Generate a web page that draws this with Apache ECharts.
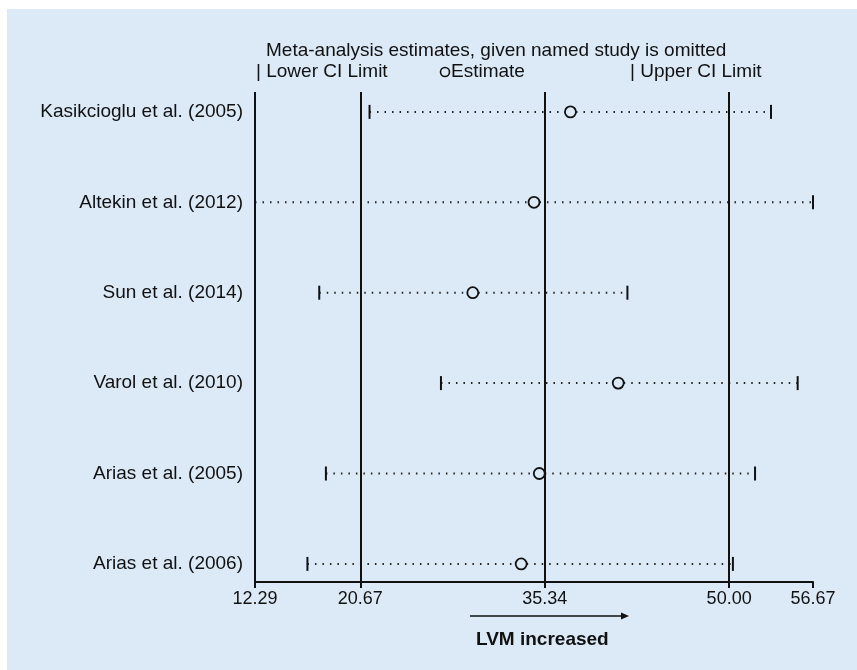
<!DOCTYPE html>
<html>
<head>
<meta charset="utf-8">
<script src="https://cdn.jsdelivr.net/npm/echarts@6/dist/echarts.min.js"></script>
<style>
  html, body { margin: 0; padding: 0; background: #ffffff; }
  #chart { position: absolute; left: 7px; top: 9px; width: 850px; height: 661px; background: #dce9f7; }
</style>
</head>
<body>
<div id="chart"></div>
<script>
  // studies top to bottom
  const studies = [
    'Kasikcioglu et al. (2005)',
    'Altekin et al. (2012)',
    'Sun et al. (2014)',
    'Varol et al. (2010)',
    'Arias et al. (2005)',
    'Arias et al. (2006)'
  ];
  const lowerCI = [21.40, 12.29, 17.40, 27.08, 17.93, 16.46];
  const estimate = [37.38, 34.48, 29.61, 41.18, 34.90, 33.46];
  const upperCI = [53.33, 56.67, 41.91, 55.45, 52.06, 50.30];
  // overall: lower, estimate, upper + axis bounds
  const refLines = [12.29, 20.67, 35.34, 50.00];
  const xTicks = [12.29, 20.67, 35.34, 50.00, 56.67];

  const font = 'Liberation Sans, Arial, sans-serif';
  const n = studies.length;

  const rows = studies.map((s, i) => [lowerCI[i], estimate[i], upperCI[i], n - i]);

  const chart = echarts.init(document.getElementById('chart'));

  const renderRow = (params, api) => {
    const lo = api.coord([api.value(0), api.value(3)]);
    const es = api.coord([api.value(1), api.value(3)]);
    const hi = api.coord([api.value(2), api.value(3)]);
    const r = 5.5;
    return {
      type: 'group',
      children: [
        {
          type: 'line',
          shape: { x1: lo[0], y1: lo[1], x2: es[0] - r, y2: es[1] },
          style: { stroke: '#222', lineWidth: 2, lineDash: [1.5, 6] }
        },
        {
          type: 'line',
          shape: { x1: es[0] + r, y1: es[1], x2: hi[0], y2: hi[1] },
          style: { stroke: '#222', lineWidth: 2, lineDash: [1.5, 6] }
        },
        {
          type: 'line',
          shape: { x1: lo[0], y1: lo[1] - 7, x2: lo[0], y2: lo[1] + 7 },
          style: { stroke: '#111', lineWidth: 2 }
        },
        {
          type: 'line',
          shape: { x1: hi[0], y1: hi[1] - 7, x2: hi[0], y2: hi[1] + 7 },
          style: { stroke: '#111', lineWidth: 2 }
        },
        {
          type: 'circle',
          shape: { cx: es[0], cy: es[1], r: r },
          style: { fill: 'none', stroke: '#111', lineWidth: 1.8 }
        }
      ]
    };
  };

  chart.setOption({
    backgroundColor: '#dce9f7',
    animation: false,
    textStyle: { fontFamily: font },
    title: {
      text: 'Meta-analysis estimates, given named study is omitted',
      left: 254,
      top: 27,
      textStyle: { fontFamily: font, fontSize: 19, fontWeight: 'normal', color: '#111' }
    },
    graphic: [
      { type: 'text', left: 249, top: 53, style: { text: '| Lower CI Limit', font: '19px ' + font, fill: '#111' } },
      { type: 'circle', shape: { cx: 438, cy: 63, r: 4.5 }, style: { fill: 'none', stroke: '#111', lineWidth: 1.6 } },
      { type: 'text', left: 444, top: 53, style: { text: 'Estimate', font: '19px ' + font, fill: '#111' } },
      { type: 'text', left: 623, top: 53, style: { text: '| Upper CI Limit', font: '19px ' + font, fill: '#111' } },
      {
        type: 'line',
        shape: { x1: 463, y1: 607, x2: 617, y2: 607 },
        style: { stroke: '#111', lineWidth: 1.5 }
      },
      {
        type: 'polygon',
        shape: { points: [[622, 607], [614, 603.5], [614, 610.5]] },
        style: { fill: '#111' }
      },
      { type: 'text', left: 469, top: 621, style: { text: 'LVM increased', font: 'bold 19px ' + font, fill: '#111' } }
    ],
    grid: { left: 248, right: 44, top: 83, bottom: 88 },
    xAxis: {
      type: 'value',
      min: 12.29,
      max: 56.67,
      splitLine: { show: false },
      axisLine: { show: true, onZero: false, lineStyle: { color: '#111', width: 2 } },
      axisTick: { show: true, length: 6, customValues: xTicks, lineStyle: { color: '#111', width: 2 } },
      axisLabel: {
        customValues: xTicks,
        formatter: v => v.toFixed(2),
        color: '#111',
        fontSize: 18,
        fontFamily: font,
        margin: 8,
        showMinLabel: true,
        showMaxLabel: true
      }
    },
    yAxis: {
      type: 'value',
      min: 0.8,
      max: 6.22,
      splitLine: { show: false },
      axisLine: { show: false },
      axisTick: { show: false },
      axisLabel: {
        customValues: [1, 2, 3, 4, 5, 6],
        formatter: v => studies[n - v],
        color: '#111',
        fontSize: 19,
        fontFamily: font,
        margin: 12
      }
    },
    series: [
      {
        type: 'custom',
        renderItem: renderRow,
        encode: { x: [0, 1, 2], y: 3 },
        data: rows,
        z: 3,
        markLine: {
          silent: true,
          symbol: 'none',
          label: { show: false },
          lineStyle: { color: '#111', width: 2, type: 'solid' },
          data: refLines.map(v => ({ xAxis: v }))
        }
      }
    ]
  });

  window.addEventListener('resize', function () {
    chart && chart.resize();
  });
</script>
</body>
</html>
